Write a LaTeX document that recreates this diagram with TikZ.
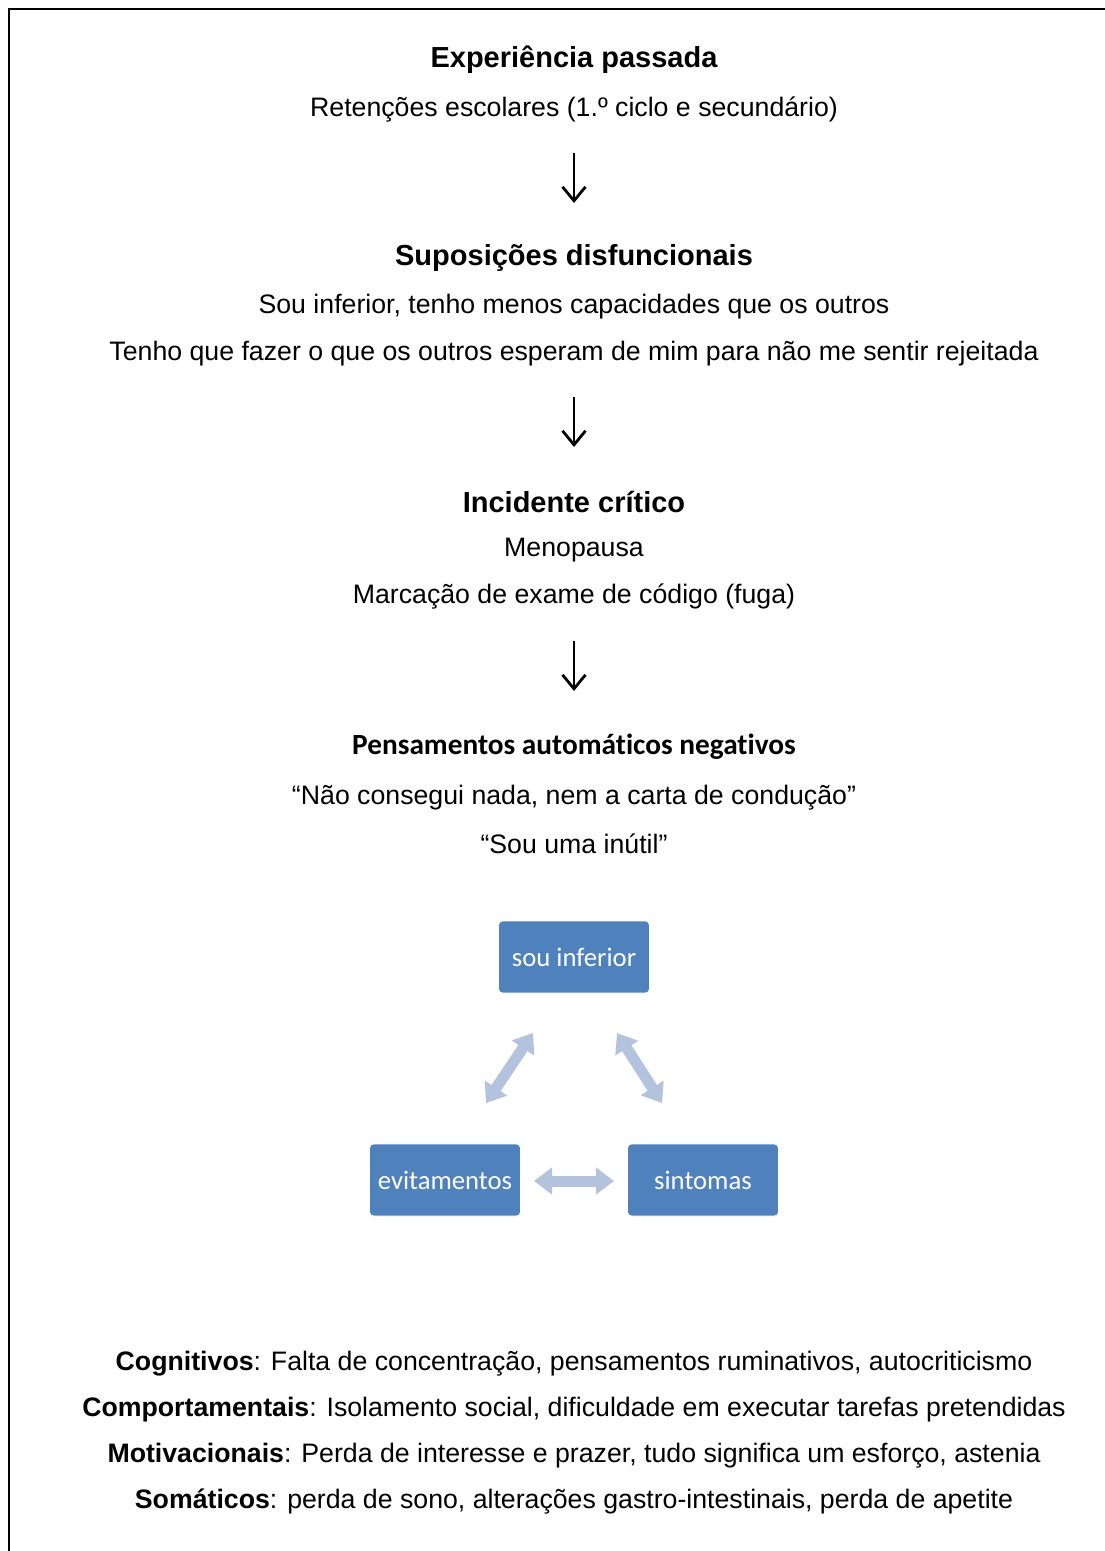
\documentclass[tikz,border=0pt]{standalone}
\usepackage{fontspec}
\setmainfont{Liberation Sans}
\newfontfamily\calib[Ligatures=CommonOff]{Carlito}
\usetikzlibrary{arrows.meta}
\definecolor{boxblue}{HTML}{4F81BD}
\definecolor{arrblue}{HTML}{B3C3DE}
\begin{document}
\begin{tikzpicture}[x=1pt,y=-1pt,
  txt/.style={inner sep=0pt,anchor=center,yshift=-2.5pt,font=\fontsize{26.7}{32}\selectfont},
  hd/.style={txt,font=\fontsize{29}{34}\selectfont\bfseries},
  hdc/.style={inner sep=0pt,anchor=center,yshift=-2.5pt,font=\fontsize{29.3}{34}\selectfont\calib\bfseries},
  flow/.style={line width=2.4pt,-{Straight Barb[length=14pt,width=23pt,line width=2.8pt]}},
  sbox/.style={fill=boxblue,draw=white,line width=0.8pt,rounded corners=4pt,minimum width=151pt,minimum height=72pt,inner sep=0pt,text=white,font=\fontsize{26.7}{30}\selectfont\calib},
  fat/.style={line width=11pt,draw=arrblue,{Triangle[length=18pt,width=26pt]}-{Triangle[length=18pt,width=26pt]},shorten <=0pt,shorten >=0pt}
]
\useasboundingbox (0,0) rectangle (1105,1551);
\draw[line width=2.2pt] (9,1551) -- (9,9) -- (1105,9);

\node[hd] (h1) at (574,57) {Experiência passada};
\node[txt] (t1) at (574,107) {Retenções escolares (1.º ciclo e secundário)};
\coordinate (a1s) at (574,153); \coordinate (a1e) at (574,203);
\draw[flow] (a1s) -- (a1e);

\node[hd] (h2) at (574,255) {Suposições disfuncionais};
\node[txt] (t2) at (574,304) {Sou inferior, tenho menos capacidades que os outros};
\node[txt] (t3) at (574,351) {Tenho que fazer o que os outros esperam de mim para não me sentir rejeitada};
\coordinate (a2s) at (574,397); \coordinate (a2e) at (574,447);
\draw[flow] (a2s) -- (a2e);

\node[hd] (h3) at (574,499) {Incidente crítico};
\node[txt] (t4) at (574,548) {Menopausa};
\node[txt] (t5) at (574,594) {Marcação de exame de código (fuga)};
\coordinate (a3s) at (574,641); \coordinate (a3e) at (574,691);
\draw[flow] (a3s) -- (a3e);

\node[hdc] (h4) at (574,744) {Pensamentos automáticos negativos};
\node[txt] (t6) at (574,795) {“Não consegui nada, nem a carta de condução”};
\node[txt] (t7) at (574,841) {“Sou uma inútil”};

\node[sbox] (b1) at (574,957) {sou inferior};
\node[sbox] (b2) at (445,1180) {evitamentos};
\node[sbox] (b3) at (703,1180) {sintomas};

\coordinate (d1a) at (486,1103); \coordinate (d1b) at (533,1033);
\coordinate (d2a) at (617,1033); \coordinate (d2b) at (662,1103);
\coordinate (d3a) at (534,1181); \coordinate (d3b) at (614,1181);
\draw[fat] (d1a) -- (d1b);
\draw[fat] (d2a) -- (d2b);
\draw[fat] (d3a) -- (d3b);

\node[txt] (c1) at (574,1361) {\textbf{Cognitivos}: Falta de concentração, pensamentos ruminativos, autocriticismo};
\node[txt] (c2) at (574,1407) {\textbf{Comportamentais}: Isolamento social, dificuldade em executar tarefas pretendidas};
\node[txt] (c3) at (574,1453) {\textbf{Motivacionais}: Perda de interesse e prazer, tudo significa um esforço, astenia};
\node[txt] (c4) at (574,1499) {\textbf{Somáticos}: perda de sono, alterações gastro-intestinais, perda de apetite};
\end{tikzpicture}
\end{document}
